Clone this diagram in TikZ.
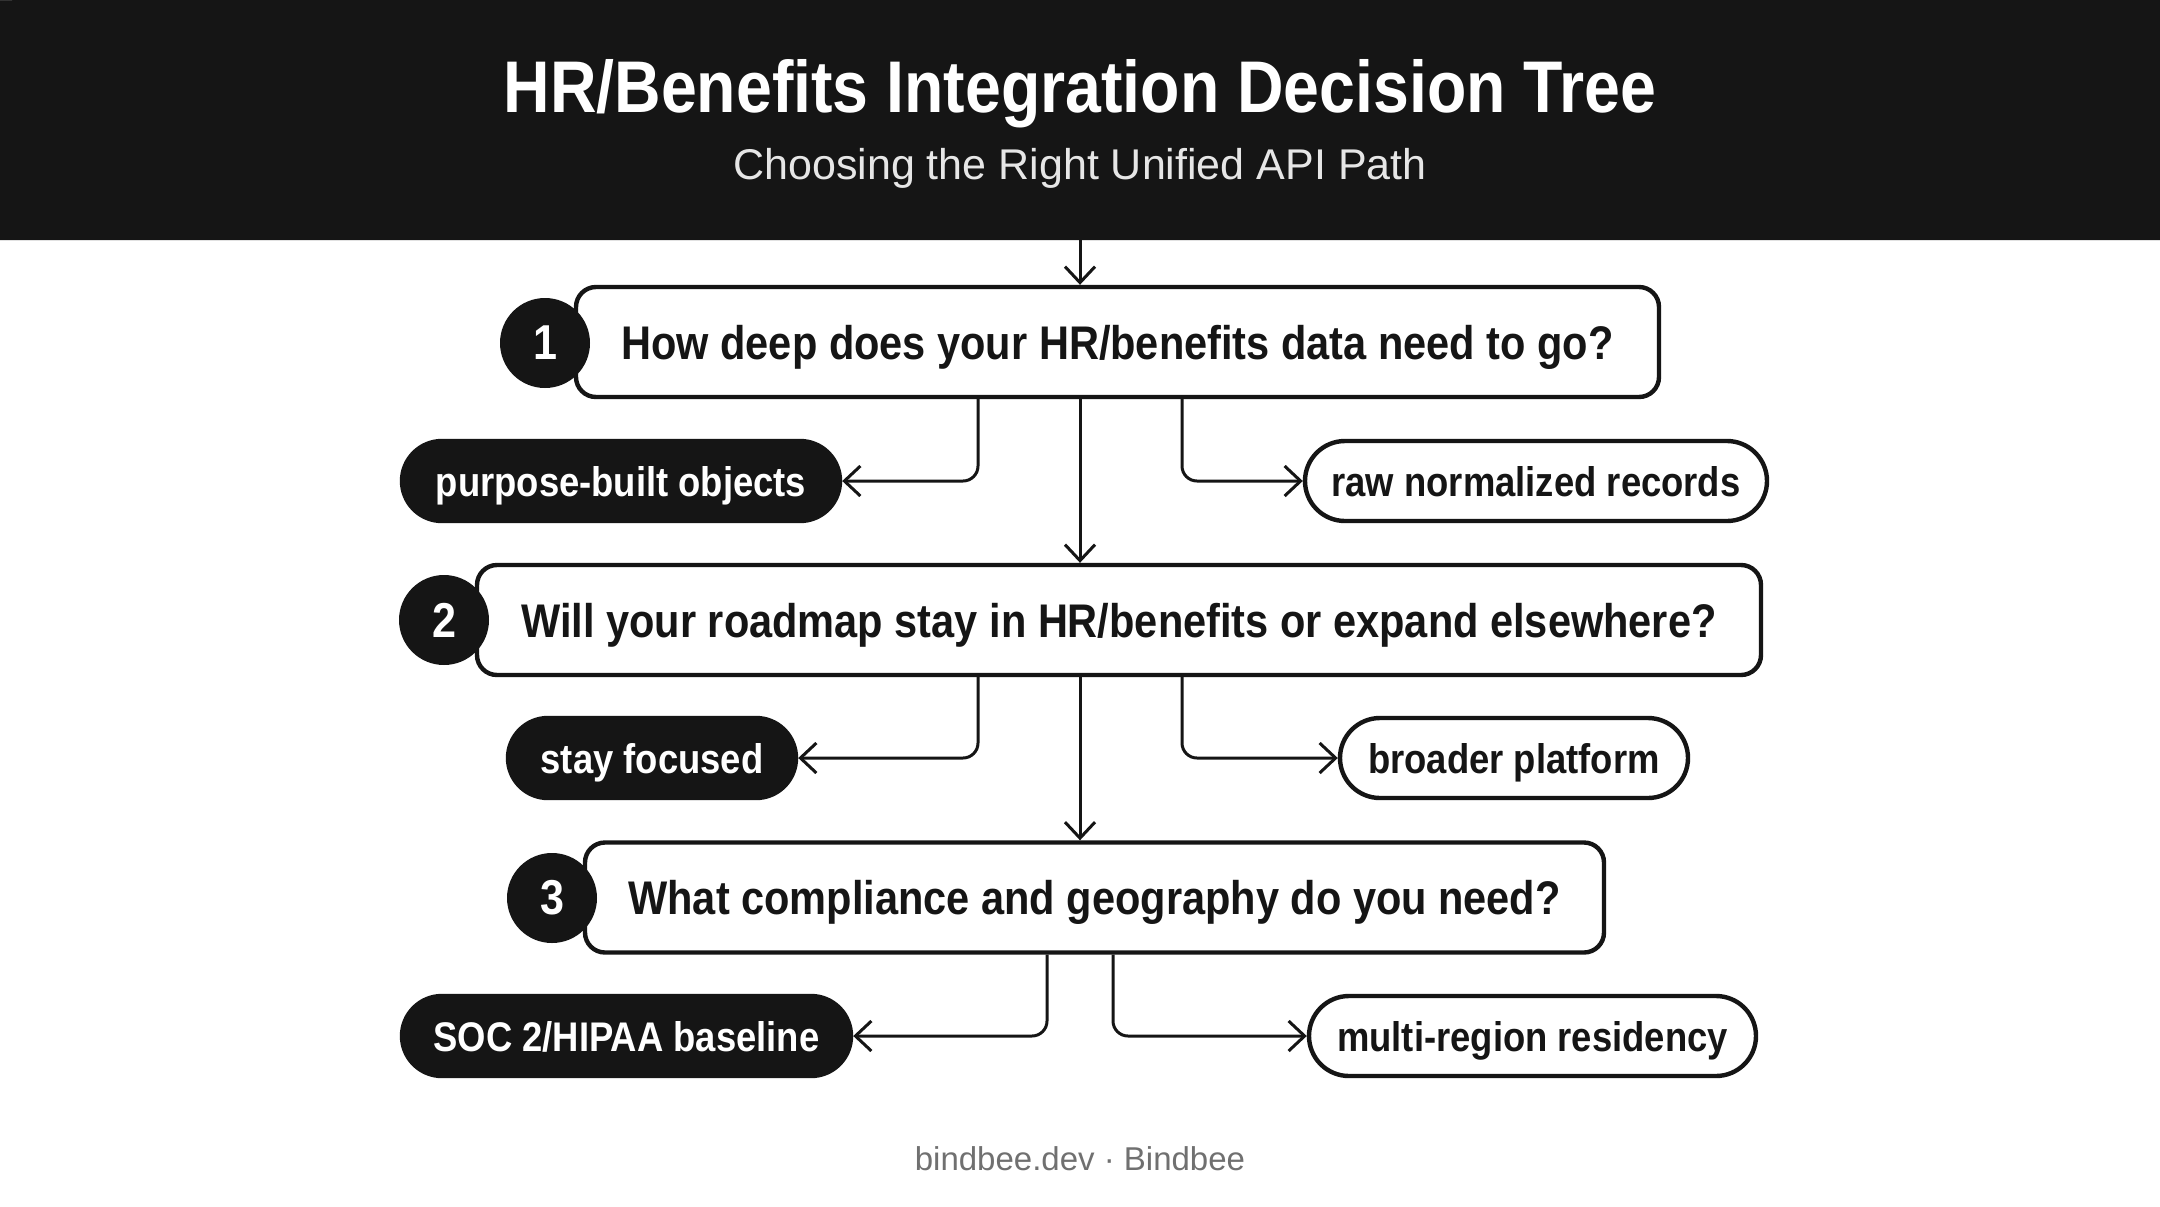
\documentclass[tikz,border=0pt]{standalone}
\usepackage{fontspec}
\setmainfont{Liberation Sans}
\newfontfamily\cfont[FakeStretch=0.88]{Liberation Sans}
\usetikzlibrary{arrows.meta,positioning,calc}
\definecolor{ink}{HTML}{151515}
\definecolor{subt}{HTML}{E6E6E6}
\definecolor{foot}{HTML}{707070}
\begin{document}
\begin{tikzpicture}[x=0.5pt,y=-0.5pt,
  qbox/.style={draw=ink,line width=2.2pt,fill=white,rounded corners=10pt,inner sep=0pt,
    font=\cfont\bfseries\fontsize{23.6}{28}\selectfont,text=ink,minimum height=55pt,
    text height=17pt,text depth=0pt},
  numc/.style={circle,fill=ink,inner sep=0pt,minimum size=45pt,text=white,
    font=\cfont\bfseries\fontsize{24.5}{28}\selectfont},
  pillbase/.style={draw=ink,line width=2.2pt,rounded corners=20pt,inner sep=0pt,minimum height=40pt,
    font=\cfont\bfseries\fontsize{20.7}{24}\selectfont,text height=15pt,text depth=0pt},
  darkpill/.style={pillbase,fill=ink,text=white},
  lightpill/.style={pillbase,fill=white,text=ink},
  conn/.style={draw=ink,line width=1.5pt,rounded corners=7.5pt,
    -{Straight Barb[length=8pt,width=15pt,line width=1.5pt]}}
]
\useasboundingbox (0,0) rectangle (2160,1206);
\fill[white] (0,0) rectangle (2160,1206);
% header
\fill[ink] (0,240) -- (0,0) [rounded corners=6pt] -- (0,0) [sharp corners] -- (2160,0) -- (2160,240) -- cycle;
\fill[white] (0,0) -- (12,0) arc[start angle=90,end angle=180,radius=12] -- cycle;
\node[inner sep=0pt,minimum width=1080pt,minimum height=120pt] (hdr) at (1080,120) {};
\node[text=white,font=\cfont\bfseries\fontsize{36.6}{42}\selectfont] (title) at (1080,94) {HR/Benefits Integration Decision Tree};
\node[text=subt,font=\fontsize{21.5}{25}\selectfont] (sub) at (1080,168) {Choosing the Right Unified API Path};
% question boxes
\node[qbox,minimum width=541.5pt] (b1) at (1117.5,342) {How deep does your HR/benefits data need to go?};
\node[numc] (n1) at (545,343) {1};
\node[qbox,minimum width=642pt] (b2) at (1119,620) {Will your roadmap stay in HR/benefits or expand elsewhere?};
\node[numc] (n2) at (444,620) {2};
\node[qbox,minimum width=509.5pt] (b3) at (1094.5,897.5) {What compliance and geography do you need?};
\node[numc] (n3) at (552,898) {3};
% answer pills
\node[darkpill,minimum width=219pt] (l1) at (621,481) {purpose-built objects};
\node[lightpill,minimum width=231pt] (r1) at (1536,481) {raw normalized records};
\node[darkpill,minimum width=144pt] (l2) at (652,758) {stay focused};
\node[lightpill,minimum width=174pt] (r2) at (1514,758) {broader platform};
\node[darkpill,minimum width=224.5pt] (l3) at (626.5,1036) {SOC 2/HIPAA baseline};
\node[lightpill,minimum width=223.5pt] (r3) at (1532.5,1036) {multi-region residency};
% footer
\node[text=foot,font=\fontsize{16.5}{20}\selectfont] (ft) at (1080,1159) {bindbee.dev · Bindbee};
% connectors
\draw[conn] (hdr.south -| 1080,0) -- (b1.north -| 1080,0);
\draw[conn] (b1.south -| 978,0) |- (l1.east);
\draw[conn] (b1.south -| 1182,0) |- (r1.west);
\draw[conn] (b1.south -| 1080,0) -- (b2.north -| 1080,0);
\draw[conn] (b2.south -| 978,0) |- (l2.east);
\draw[conn] (b2.south -| 1182,0) |- (r2.west);
\draw[conn] (b2.south -| 1080,0) -- (b3.north -| 1080,0);
\draw[conn] (b3.south -| 1047,0) |- (l3.east);
\draw[conn] (b3.south -| 1113,0) |- (r3.west);
\end{tikzpicture}
\end{document}
